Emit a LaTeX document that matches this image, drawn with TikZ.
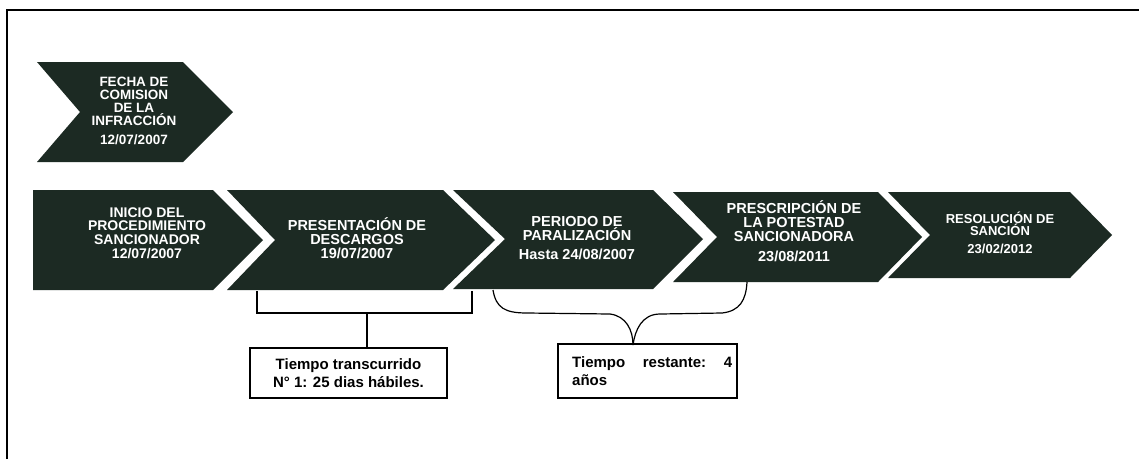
\documentclass[tikz,border=0pt]{standalone}
\usepackage{fontspec}
\setmainfont{Liberation Sans}
\definecolor{chev}{HTML}{1C2A23}
\begin{document}
\begin{tikzpicture}[x=1pt,y=-1pt,
  chevfill/.style={fill=chev},
  chevlbl/.style={text=white,font=\bfseries\fontsize{14.5}{14}\selectfont,align=center,inner sep=0pt},
  boxnode/.style={draw=black,line width=1.4pt,fill=white,inner sep=0pt},
  boxtxt/.style={font=\bfseries\fontsize{15}{18}\selectfont,inner sep=0pt},
  brk/.style={draw=black,line width=1.2pt}]
\useasboundingbox (0,0) rectangle (1139,459);
\fill[white] (0,0) rectangle (1139,459);
\draw[line width=2pt] (7,459) -- (7,10) -- (1139,10);

% chevrons
\fill[chevfill] (37,62)--(183,62)--(233,112)--(183,162)--(37,162)--(80,112)--cycle;
\fill[chevfill] (33,190)--(213,190)--(263,240)--(213,290)--(33,290)--cycle;
\fill[chevfill] (227,190)--(443,190)--(495,240)--(443,290)--(227,290)--(275,240)--cycle;
\fill[chevfill] (453,190)--(653,190)--(703,239)--(653,289)--(453,289)--(505,239)--cycle;
\fill[chevfill] (673,192)--(878,192)--(922,237)--(878,282)--(673,282)--(717,237)--cycle;
\fill[chevfill] (888,192)--(1070,192)--(1112,235)--(1070,278)--(888,278)--(930,235)--cycle;

% labels
\node[chevlbl,font=\bfseries\fontsize{13.5}{13}\selectfont] (t0) at (134,111) {FECHA DE\\COMISION\\DE LA\\INFRACCIÓN\\[6pt]12/07/2007};
\node[chevlbl,font=\bfseries\fontsize{14}{13.7}\selectfont] (t1) at (147,233) {INICIO DEL\\PROCEDIMIENTO\\SANCIONADOR\\12/07/2007};
\node[chevlbl] (t2) at (357,238) {PRESENTACIÓN DE\\DESCARGOS\\19/07/2007};
\node[chevlbl] (t3) at (577,238) {PERIODO DE\\PARALIZACIÓN\\[5pt]Hasta 24/08/2007};
\node[chevlbl] (t4) at (794,231) {PRESCRIPCIÓN DE\\LA POTESTAD\\SANCIONADORA\\[6pt]23/08/2011};
\node[chevlbl,font=\bfseries\fontsize{13}{12}\selectfont] (t5) at (1000,233) {RESOLUCIÓN DE\\SANCIÓN\\[6pt]23/02/2012};

% boxes
\node[boxnode,minimum width=197pt,minimum height=50pt] (b1) at (348.5,373) {};
\node[boxtxt,align=center] (b1t) at (b1.center) {Tiempo transcurrido\\N° 1: 25 dias hábiles.};
\node[boxnode,minimum width=179pt,minimum height=54pt] (b2) at (647.5,371) {};
\node[boxtxt,anchor=west,text width=160pt,align=left] (b2t) at (572,371) {Tiempo\hfill restante:\hfill 4\\años};

% bracket 1
\coordinate (l1) at (257,291);
\coordinate (r1) at (472,291);
\draw[brk] (l1) -- (257,313) -- (472,313) -- (r1);
\draw[brk] (367,313) -- (367,313 |- b1.north);

% brace 2
\coordinate (l2) at (493,290);
\coordinate (r2) at (747,282);
\coordinate (tip) at (633,345);
\draw[brk] (l2) .. controls (496,308) and (505,313) .. (527,313) -- (610,314)
  .. controls (626,316) and (633,330) .. (tip);
\draw[brk] (tip) .. controls (635,330) and (642,314) .. (660,314) -- (722,313)
  .. controls (740,311) and (746,300) .. (r2);
\end{tikzpicture}
\end{document}
